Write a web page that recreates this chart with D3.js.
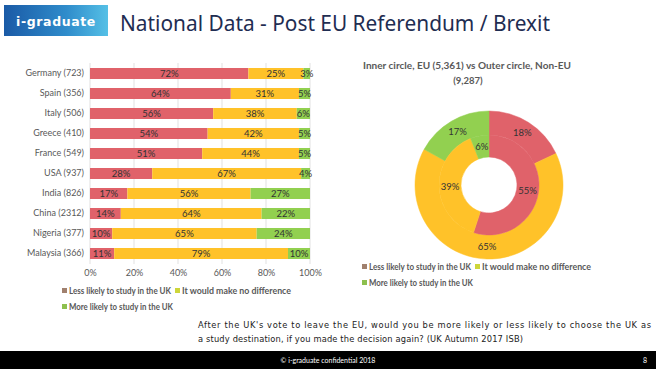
<!DOCTYPE html>
<html><head><meta charset="utf-8">
<script src="https://cdn.jsdelivr.net/npm/d3@7"></script>
<style>
html,body{margin:0;padding:0;background:#fff;}
svg{display:block;}
</style></head>
<body>
<svg id="c" width="656" height="369"></svg>
<script>
const categories = ["Germany (723)","Spain (356)","Italy (506)","Greece (410)","France (549)","USA (937)","India (826)","China (2312)","Nigeria (377)","Malaysia (366)"];
const lessLikely = [72,64,56,54,51,28,17,14,10,11];
const noDifference = [25,31,38,42,44,67,56,64,65,79];
const moreLikely = [3,5,6,5,5,4,27,22,24,10];
const xTicks = [0,20,40,60,80,100];
const seriesNames = ["Less likely to study in the UK","It would make no difference","More likely to study in the UK"];
const innerEU = [55,39,6];
const outerNonEU = [18,65,17];

const barColors = ["#E0626A","#FFC229","#92D050"];
const legendColors = ["#A0806E","#CDD63A","#8DC04E"];
const font = "Lato, 'Open Sans', sans-serif";
const svg = d3.select("#c");

// Header
const grad = svg.append("defs").append("linearGradient").attr("id","lg").attr("x1","0").attr("x2","1");
grad.append("stop").attr("offset","0").attr("stop-color","#1A5AA6");
grad.append("stop").attr("offset","0.6").attr("stop-color","#2F8CCB");
grad.append("stop").attr("offset","1").attr("stop-color","#55C0E6");
svg.append("rect").attr("x",4).attr("y",5).attr("width",104).attr("height",31).attr("fill","url(#lg)");
svg.append("text").attr("x",56).attr("y",25.5).attr("text-anchor","middle").attr("fill","#fff")
  .style("font-family","'DejaVu Sans', sans-serif").style("font-weight","bold").style("font-size","12.5px")
  .style("letter-spacing","0.6px").text("i-graduate");
svg.append("text").attr("x",120).attr("y",31).attr("fill","#1F2D52")
  .style("font-family","'Noto Sans', sans-serif").style("font-size","21px")
  .attr("textLength",430).attr("lengthAdjust","spacingAndGlyphs")
  .text("National Data - Post EU Referendum / Brexit");

// Bar chart
const x = d3.scaleLinear().domain([0,100]).range([90,310]);
const y = d3.scaleBand().domain(categories).range([63.5,263.5]).paddingInner(0.45).paddingOuter(0.225);
const g = svg.append("g");
g.selectAll("line.grid").data(xTicks).join("line").attr("class","grid")
  .attr("x1",d=>x(d)).attr("x2",d=>x(d)).attr("y1",63).attr("y2",264)
  .attr("stroke","#D9D9D9").attr("stroke-width",0.8);

const rows = categories.map((c,i)=>({c, v:[lessLikely[i],noDifference[i],moreLikely[i]]}));
rows.forEach(r=>{
  const tot = d3.sum(r.v);
  let acc = 0;
  r.v.forEach((v,k)=>{
    const x0 = x(acc/tot*100), x1 = x((acc+v)/tot*100);
    g.append("rect").attr("x",x0).attr("y",y(r.c)).attr("width",x1-x0).attr("height",y.bandwidth()).attr("fill",barColors[k]);
    g.append("text").attr("x",(x0+x1)/2).attr("y",y(r.c)+y.bandwidth()/2+3.3)
      .attr("text-anchor","middle").attr("fill","#333").style("font-family",font).style("font-size","9.5px")
      .text(v+"%");
    acc += v;
  });
});
const yAxis = g.append("g").attr("transform","translate(84,0)")
  .call(d3.axisLeft(y).tickSize(0).tickPadding(0));
yAxis.select(".domain").remove();
yAxis.selectAll("text").attr("fill","#595959").style("font-family",font).style("font-size","9px");
const xAxis = g.append("g").attr("transform","translate(0,270)")
  .call(d3.axisBottom(x).tickValues(xTicks).tickSize(0).tickPadding(0).tickFormat(d=>d+"%"));
xAxis.select(".domain").remove();
xAxis.selectAll("text").attr("fill","#595959").style("font-family",font).style("font-size","9px");

const legendLens = [102,109,104];
function legend(items, x0, y0){
  const pos = [[x0,y0],[x0+113,y0],[x0,y0+16]];
  items.forEach((n,i)=>{
    svg.append("rect").attr("x",pos[i][0]).attr("y",pos[i][1]-3).attr("width",5).attr("height",5).attr("fill",legendColors[i]);
    svg.append("text").attr("x",pos[i][0]+7).attr("y",pos[i][1]+2.5).attr("fill","#595959")
      .style("font-family",font).style("font-weight","bold").style("font-size","8.5px")
      .attr("textLength",legendLens[i]).attr("lengthAdjust","spacingAndGlyphs").text(n);
  });
}
legend(seriesNames, 62, 291);

// Donut
const cx = 489, cy = 185;
const dg = svg.append("g").attr("transform",`translate(${cx},${cy})`);
const pie = d3.pie().sort(null).value(d=>d);
const outerArc = d3.arc().innerRadius(50).outerRadius(74);
const innerArc = d3.arc().innerRadius(28).outerRadius(50);
[[outerNonEU,outerArc],[innerEU,innerArc]].forEach(([data,arc])=>{
  const arcs = pie(data);
  dg.selectAll(null).data(arcs).join("path").attr("d",arc).attr("fill",(d,i)=>barColors[i])
    .attr("stroke",(d,i)=>barColors[i]).attr("stroke-width",0.5);
  dg.selectAll(null).data(arcs).join("text").attr("transform",d=>{const c=arc.centroid(d);return `translate(${c[0]},${c[1]+3.3})`;})
    .attr("text-anchor","middle").attr("fill","#333").style("font-family",font).style("font-size","9.5px")
    .text(d=>d.data+"%");
});
svg.append("text").attr("x",467).attr("y",69).attr("text-anchor","middle").attr("fill","#595959")
  .style("font-family",font).style("font-weight","bold").style("font-size","9.5px")
  .attr("textLength",208).attr("lengthAdjust","spacingAndGlyphs")
  .text("Inner circle, EU (5,361) vs Outer circle, Non-EU");
svg.append("text").attr("x",468).attr("y",84).attr("text-anchor","middle").attr("fill","#595959")
  .style("font-family",font).style("font-weight","bold").style("font-size","9.5px")
  .text("(9,287)");
legend(seriesNames, 362, 267);

// Question
const qf = "'DejaVu Sans', sans-serif";
svg.append("text").attr("x",198).attr("y",328).attr("fill","#222").style("font-family",qf).style("font-size","8.3px")
  .attr("textLength",453).attr("lengthAdjust","spacing")
  .text("After the UK's vote to leave the EU, would you be more likely or less likely to choose the UK as");
svg.append("text").attr("x",198).attr("y",342).attr("fill","#222").style("font-family",qf).style("font-size","8.3px")
  .attr("textLength",325).attr("lengthAdjust","spacing")
  .text("a study destination,  if you made the decision again? (UK Autumn 2017 ISB)");

// Footer
svg.append("rect").attr("x",0).attr("y",351).attr("width",656).attr("height",18).attr("fill","#000");
svg.append("text").attr("x",328).attr("y",363).attr("text-anchor","middle").attr("fill","#fff")
  .style("font-family",font).style("font-size","7px").text("© i-graduate confidential 2018");
svg.append("text").attr("x",645).attr("y",363).attr("text-anchor","middle").attr("fill","#fff")
  .style("font-family",font).style("font-size","7px").text("8");
</script>
</body></html>
